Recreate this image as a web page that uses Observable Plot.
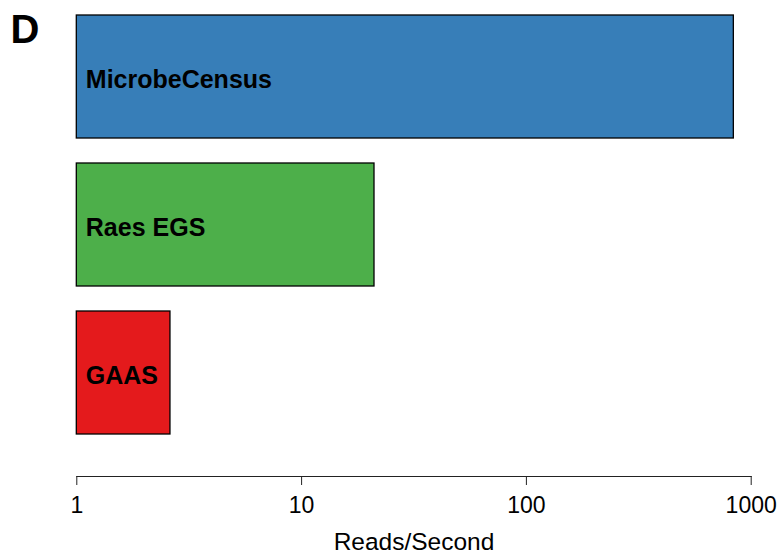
<!DOCTYPE html>
<html>
<head>
<meta charset="utf-8">
<script src="https://cdn.jsdelivr.net/npm/d3@7"></script>
<script src="https://cdn.jsdelivr.net/npm/@observablehq/plot@0.6"></script>
<style>
  html, body { margin: 0; padding: 0; background: #fff; }
  #chart svg { display: block; }
</style>
</head>
<body>
<div id="chart"></div>
<script>
// Data
const tools = ["MicrobeCensus", "Raes EGS", "GAAS"];
const readsPerSecond = [837, 21.1, 2.61];
const colors = ["#377EB8", "#4DAF4A", "#E41A1C"];
const xTicks = [1, 10, 100, 1000];
const panelLabel = "D";
const xLabel = "Reads/Second";

const data = tools.map((t, i) => ({tool: t, value: readsPerSecond[i], color: colors[i]}));
const font = "'Liberation Sans', Arial, Helvetica, sans-serif";

const plot = Plot.plot({
  width: 782,
  height: 557,
  marginLeft: 76.3,
  marginRight: 31.3,
  marginTop: 0,
  marginBottom: 81,
  style: {fontFamily: font, fontSize: "23px", color: "#000", background: "#fff"},
  x: {type: "log", domain: [1, 1000]},
  y: {domain: tools, range: [14.3, 435.7], paddingInner: 0.167, paddingOuter: 0, axis: null},
  marks: [
    Plot.barX(data, {x1: 1, x2: "value", y: "tool", fill: "color", stroke: "#000", strokeWidth: 1.3}),
    Plot.text(data, {y: "tool", text: "tool", frameAnchor: "left", textAnchor: "start", dx: 9, dy: 2.5,
      fontWeight: "bold", fontSize: 25, fill: "#000"}),
    Plot.axisX({ticks: xTicks, tickFormat: d => String(d), tickSize: 9, tickPadding: 11,
      stroke: "#222", fontSize: 23, label: null}),
    Plot.axisX({ticks: [], tickSize: 0, label: xLabel, labelAnchor: "center", labelArrow: "none",
      labelOffset: 73, fontSize: 24.5}),
    Plot.frame({anchor: "bottom", stroke: "#222"}),
    Plot.text([panelLabel], {text: d => d, frameAnchor: "top-left", textAnchor: "start", lineAnchor: "top",
      dx: -66.3, dy: 14.3, fontSize: 40, fontWeight: "bold", fill: "#000"})
  ]
});
document.getElementById("chart").appendChild(plot);
</script>
</body>
</html>
